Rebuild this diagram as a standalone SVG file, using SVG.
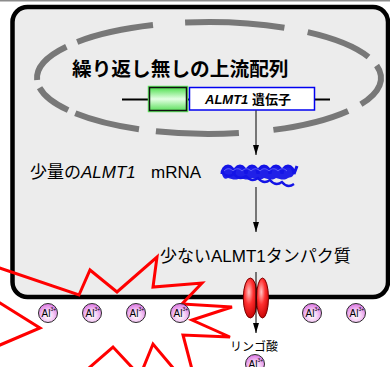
<svg xmlns="http://www.w3.org/2000/svg" width="390" height="367" viewBox="0 0 390 367">
  <defs>
    <style>
      text { font-family: "Liberation Sans", "Noto Sans CJK JP", sans-serif; fill: #000; }
      .dash { fill: none; stroke: #787878; stroke-width: 6; }
      .conn { fill: none; stroke: #000; stroke-width: 1; marker-end: url(#arrow); }
      .ion circle { fill: url(#ionFill); stroke: #2a2a2a; stroke-width: 1; }
      .ion text { font-size: 10px; }
      .ion .sup { font-size: 5px; }
      .pore { fill: url(#poreFill); stroke: #7a0000; stroke-width: 1; }
      .strand { fill: none; stroke: #1414e6; }
    </style>
    <marker id="arrow" viewBox="0 0 10 6" markerWidth="10" markerHeight="6" refX="10" refY="3" orient="auto" markerUnits="userSpaceOnUse">
      <path d="M0,0 L10,3 L0,6 z" fill="#000"/>
    </marker>
    <linearGradient id="promoterFill" x1="0" y1="0" x2="0" y2="1">
      <stop offset="0" stop-color="#4fe04f"/>
      <stop offset="0.5" stop-color="#e4ffe4"/>
      <stop offset="1" stop-color="#5ee05e"/>
    </linearGradient>
    <radialGradient id="ionFill" cx="0.5" cy="0.65" r="0.6">
      <stop offset="0" stop-color="#ffffff"/>
      <stop offset="0.45" stop-color="#f6d2f6"/>
      <stop offset="1" stop-color="#de7ee4"/>
    </radialGradient>
    <radialGradient id="poreFill" cx="0.4" cy="0.35" r="0.7">
      <stop offset="0" stop-color="#ffc4c4"/>
      <stop offset="0.45" stop-color="#ff3030"/>
      <stop offset="1" stop-color="#c40000"/>
    </radialGradient>
  </defs>

  <!-- page edge -->
  <rect x="0" y="0" width="390" height="367" fill="#fff"/>
  <rect x="0" y="0" width="390" height="1.5" fill="#8c8c8c"/>

  <!-- root cell -->
  <g id="cell">
    <rect x="12.5" y="7" width="375.5" height="290" rx="15" fill="#ececec" stroke="#000" stroke-width="4.5"/>
  </g>

  <!-- upstream region without repeats -->
  <g id="upstream-region">
    <path class="dash" d="M77.2,42.0 A172,56 0 0 1 153.0,25.1"/>
    <path class="dash" d="M185.1,22.5 A172,56 0 0 1 284.4,27.7"/>
    <path class="dash" d="M307.7,32.1 A172,56 0 0 1 368.5,57.0"/>
    <path class="dash" d="M376.6,65.4 A172,56 0 0 1 360.9,104.3"/>
    <path class="dash" d="M348.1,110.9 A172,56 0 0 1 273.4,129.9"/>
    <path class="dash" d="M238.9,133.1 A172,56 0 0 1 155.9,131.3"/>
    <path class="dash" d="M139.0,129.2 A172,56 0 0 1 75.3,113.2"/>
    <path class="dash" d="M68.1,110.1 A172,56 0 0 1 39.6,87.7"/>
    <path class="dash" d="M37.1,80.0 A172,56 0 0 1 66.4,46.7"/>
    <text x="72" y="76" font-size="19.7" font-weight="bold">繰り返し無しの上流配列</text>
  </g>

  <!-- gene -->
  <g id="gene">
    <line x1="122" y1="99.5" x2="330" y2="99.5" stroke="#000" stroke-width="2"/>
    <rect x="148.5" y="86.5" width="39" height="25" fill="none" stroke="#5fe65f" stroke-width="1.5"/>
    <rect x="149.5" y="87.5" width="37" height="23" fill="url(#promoterFill)" stroke="#111" stroke-width="1.5"/>
    <rect x="189.5" y="87.5" width="125" height="22.5" fill="#fff" stroke="#0000f0" stroke-width="1.5"/>
    <text x="205" y="103.5" font-size="13" font-weight="bold"><tspan font-style="italic">ALMT1</tspan> 遺伝子</text>
  </g>

  <!-- mRNA -->
  <g id="mrna">
    <path d="M222,174 a6,8 0 0 1 12,0 a6,8 0 0 1 12,0 a6,8 0 0 1 12,0 a6,8 0 0 1 12,0 a6,8 0 0 1 12,0 a6,8 0 0 1 12,0 c-2,4 -4,3 -6,4 c-4,3 -8,1 -12,0 c-4,3 -8,1 -12,0 c-4,3 -8,1 -12,0 c-4,3 -8,1 -12,0 c-4,3 -8,1 -12,0 c-3,2 -5,0 -6,-4 z" fill="#2020e8"/>
    <path class="strand" d="M222,174 a6,8 0 0 1 12,0 a6,8 0 0 1 12,0 a6,8 0 0 1 12,0 a6,8 0 0 1 12,0 a6,8 0 0 1 12,0 a6,8 0 0 1 12,0 l3,-8" stroke-width="3"/>
    <path class="strand" d="M222,172 c4,5 8,5 12,2 c4,5 8,5 12,2 c4,5 8,5 12,2 c4,5 8,5 12,2 c4,5 8,5 12,2 c4,5 8,5 12,2" stroke-width="2.2"/>
    <path d="M224,171 c3,-3 6,-3 9,0 c3,-3 6,-3 9,0 c3,-3 6,-3 9,0 c3,-3 6,-3 9,0 c3,-3 6,-3 9,0 c3,-3 6,-3 9,0 c3,-3 6,-3 9,0" fill="none" stroke="#7070ff" stroke-width="0.8"/>
    <text x="30" y="178" font-size="17">少量の<tspan font-style="italic">ALMT1</tspan></text>
    <text x="151" y="178" font-size="17">mRNA</text>
  </g>

  <!-- protein -->
  <g id="protein">
    <text x="160" y="262" font-size="17">少ないALMT1タンパク質</text>
  </g>

  <!-- aluminium stress burst -->
  <g id="stress-burst">
    <polygon points="-30,258 79,295 90,270 117,292 157,257 153,287 202,283 182,304 232,307 192,320 230,337 183,335 200,400 153,344 140,376 113,347 58,395 -40,395 -40,362 40,328 -40,278 -40,262" fill="none" stroke="#ff0000" stroke-width="3" stroke-linejoin="miter"/>
  </g>

  <!-- ALMT1 channel -->
  <g id="channel">
    <ellipse class="pore" cx="250.3" cy="298" rx="7" ry="20"/>
    <ellipse class="pore" cx="262.5" cy="298" rx="6" ry="20"/>
  </g>

  <!-- malate -->
  <g id="malate">
    <text x="230" y="351" font-size="12">リンゴ酸</text>
  </g>

  <!-- Al3+ ions -->
  <g id="ions">
    <g class="ion" transform="translate(48,313)"><circle r="9.5"/><text x="-6.5" y="3.5">Al</text><text class="sup" x="2.5" y="-2">3+</text></g>
    <g class="ion" transform="translate(92,313)"><circle r="9.5"/><text x="-6.5" y="3.5">Al</text><text class="sup" x="2.5" y="-2">3+</text></g>
    <g class="ion" transform="translate(136,313)"><circle r="9.5"/><text x="-6.5" y="3.5">Al</text><text class="sup" x="2.5" y="-2">3+</text></g>
    <g class="ion" transform="translate(180,313)"><circle r="9.5"/><text x="-6.5" y="3.5">Al</text><text class="sup" x="2.5" y="-2">3+</text></g>
    <g class="ion" transform="translate(312,313)"><circle r="9.5"/><text x="-6.5" y="3.5">Al</text><text class="sup" x="2.5" y="-2">3+</text></g>
    <g class="ion" transform="translate(356,313)"><circle r="9.5"/><text x="-6.5" y="3.5">Al</text><text class="sup" x="2.5" y="-2">3+</text></g>
    <g class="ion" transform="translate(255,364)"><circle r="9.5"/><text x="-6.5" y="3.5">Al</text><text class="sup" x="2.5" y="-2">3+</text></g>
  </g>

  <!-- connectors -->
  <g id="connectors">
    <line class="conn" x1="256" y1="110.5" x2="256" y2="155"/>
    <line class="conn" x1="256" y1="187" x2="256" y2="232"/>
    <line class="conn" x1="256" y1="272" x2="256" y2="333"/>
  </g>
</svg>
